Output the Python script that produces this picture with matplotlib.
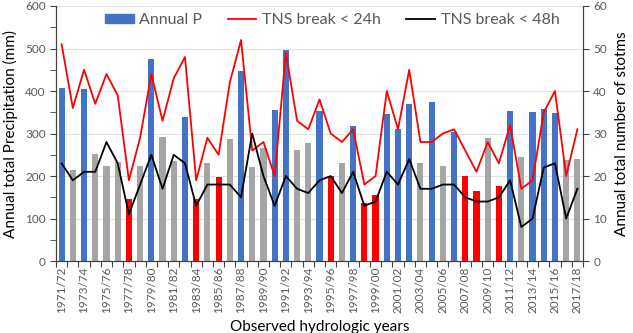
import matplotlib
matplotlib.use("Agg")
import matplotlib.pyplot as plt
from matplotlib.patches import Patch
import numpy as np

plt.rcParams["font.family"] = ["Lato", "DejaVu Sans"]

years = [f"{y}/{(y + 1) % 100:02d}" for y in range(1971, 2018)]

# annual precipitation (mm)
precip = [406, 214, 404, 252, 224, 233, 147, 224, 476, 293,
          235, 339, 146, 230, 197, 286, 448, 222, 267, 355,
          496, 262, 277, 353, 200, 230, 318, 136, 155, 346,
          311, 369, 231, 373, 224, 304, 201, 165, 289, 177,
          353, 245, 350, 358, 348, 238, 240]
# year type: w = wet, n = normal, d = dry
year_type = list("wnwnnndnwnnwdndnwnnwwnnwdnwddwwwnwnwddndwnwwwnn")

storms_24h = [51, 36, 45, 37, 44, 39, 19, 29, 44, 33,
              43, 48, 19, 29, 25, 42, 52, 26, 28, 20,
              49, 33, 31, 38, 30, 28, 31, 18, 20, 40,
              31, 45, 28, 28, 30, 31, 26, 21, 28, 23,
              32, 17, 19, 35, 40, 20, 31]
storms_48h = [23, 19, 21, 21, 28, 23, 11, 18, 25, 17,
              25, 23, 13, 18, 18, 18, 15, 30, 20, 13,
              20, 17, 16, 19, 20, 16, 21, 13, 14, 21,
              18, 24, 17, 17, 18, 18, 15, 14, 14, 15,
              19, 8, 10, 22, 23, 10, 17]

type_colors = {"w": "#4472C4", "n": "#A5A5A5", "d": "#FF0000"}
grey_txt = "#595959"

fig = plt.figure(figsize=(6.33, 3.33), dpi=100)
ax = fig.add_axes([0.0885, 0.216, 0.8325, 0.766])
ax2 = ax.twinx()

x = np.arange(len(years))
ax.bar(x, precip, width=0.55, color=[type_colors[t] for t in year_type], zorder=2)
ax2.plot(x, storms_24h, color="#FF0000", lw=1.3)
ax2.plot(x, storms_48h, color="black", lw=1.3)

ax.set_xlim(-0.5, len(years) - 0.5)
ax.set_ylim(0, 600)
ax2.set_ylim(0, 60)
ax.set_yticks(range(0, 601, 100))
ax.set_yticks(range(0, 601, 50), minor=True)
ax2.set_yticks(range(0, 61, 10))
ax.grid(axis="y", color="#E3E3E3", lw=0.8, zorder=0)
ax.set_axisbelow(True)

# category-boundary ticks, labels on every other year
ax.set_xticks(np.arange(-0.5, len(years) + 0.5, 1))
ax.set_xticklabels([])
ax.set_xticks(x[::2], minor=True)
ax.set_xticklabels(years[::2], minor=True, rotation=90, fontsize=8.5, color=grey_txt)
ax.tick_params(axis="x", which="major", length=4, color="#404040")
ax.tick_params(axis="x", which="minor", length=0, pad=4)
ax.tick_params(axis="y", which="both", length=4, color="#404040", labelsize=8.5,
               labelcolor=grey_txt)
ax2.tick_params(axis="y", length=4, color="#404040", labelsize=8.5, labelcolor=grey_txt)

for a in (ax, ax2):
    a.spines["top"].set_visible(False)
    for s in ("left", "right", "bottom"):
        a.spines[s].set_color("#404040")

ax.set_ylabel("Annual total Precipitation (mm)", fontsize=11, labelpad=5)
ax2.set_ylabel("Annual total number of stotms", fontsize=11, rotation=90, labelpad=6)
ax.set_xlabel("Observed hydrologic years", fontsize=11, labelpad=5)

handles = [Patch(color="#4472C4"),
           plt.Line2D([], [], color="#FF0000", lw=1.3),
           plt.Line2D([], [], color="black", lw=1.3)]
ax2.legend(handles, ["Annual P", "TNS break < 24h", "TNS break < 48h"],
           loc="center", bbox_to_anchor=(0.524, 0.945), ncol=3, frameon=False,
           fontsize=11.5, handlelength=1.8, handleheight=0.55, columnspacing=1.6,
           handletextpad=0.35, labelcolor=grey_txt)

fig.savefig("out.png", dpi=100)
